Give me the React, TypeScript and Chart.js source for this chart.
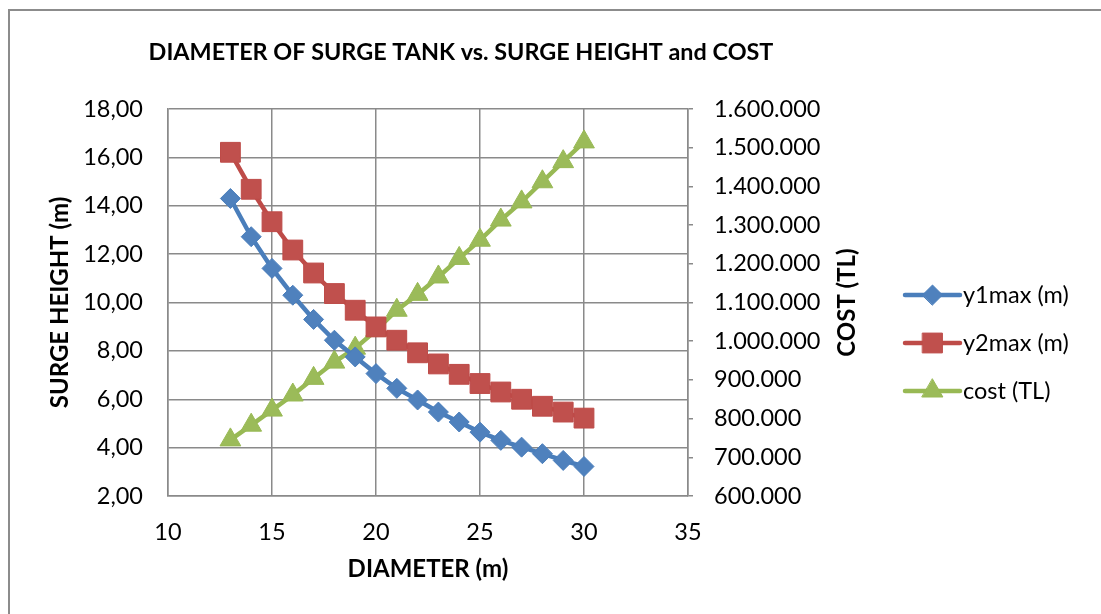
import React, { useEffect, useRef } from "react";
import { Chart, registerables } from "chart.js";

Chart.register(...registerables);

// Surge tank diameter (m)
const diameters = [13, 14, 15, 16, 17, 18, 19, 20, 21, 22, 23, 24, 25, 26, 27, 28, 29, 30];
// Maximum upsurge y1 (m)
const y1max = [14.3, 12.72, 11.41, 10.3, 9.3, 8.44, 7.75, 7.06, 6.45, 5.97, 5.47, 5.06, 4.64, 4.3, 4.02, 3.75, 3.47, 3.22];
// Maximum surge y2 (m)
const y2max = [16.21, 14.68, 13.34, 12.17, 11.22, 10.37, 9.68, 8.99, 8.44, 7.92, 7.46, 7.03, 6.65, 6.3, 6.0, 5.71, 5.47, 5.22];
// Construction cost (TL)
const cost = [745000, 783000, 822000, 861000, 904000, 946000, 982000, 1028000, 1080000, 1121000, 1166000, 1214000, 1261000, 1313000, 1360000, 1412000, 1464000, 1515000];

const seriesNames = ["y1max (m)", "y2max (m)", "cost (TL)"];
const chartTitle = "DIAMETER OF SURGE TANK vs. SURGE HEIGHT and COST";
const xTitle = "DIAMETER (m)";
const leftTitle = "SURGE HEIGHT (m)";
const rightTitle = "COST (TL)";

const FONT = "Lato, 'Open Sans', sans-serif";
const TICK_SIZE = 23.5;
const AXIS_TITLE_SIZE = 24;
const GRID = "#8a8a8a";

const BLUE = { line: "#4A7EBB", fill: "#4F81BD" };
const RED = { line: "#BE4B48", fill: "#C0504D" };
const GREEN = { line: "#98B954", fill: "#9BBB59" };

const formatHeight = (v: number) => v.toFixed(2).replace(".", ",");
const formatCost = (v: number) => String(Math.round(v)).replace(/\B(?=(\d{3})+(?!\d))/g, ".");

function drawMarker(ctx: CanvasRenderingContext2D, style: string, x: number, y: number, r: number, fill: string, stroke: string) {
  ctx.beginPath();
  if (style === "rectRot") {
    ctx.moveTo(x - r, y);
    ctx.lineTo(x, y - r);
    ctx.lineTo(x + r, y);
    ctx.lineTo(x, y + r);
  } else if (style === "rect") {
    const s = Math.SQRT1_2 * r;
    ctx.rect(x - s, y - s, 2 * s, 2 * s);
  } else {
    const a = (2 * Math.PI) / 3;
    ctx.moveTo(x, y - r);
    ctx.lineTo(x + Math.sin(a) * r, y - Math.cos(a) * r);
    ctx.lineTo(x + Math.sin(2 * a) * r, y - Math.cos(2 * a) * r);
  }
  ctx.closePath();
  ctx.fillStyle = fill;
  ctx.fill();
  ctx.strokeStyle = stroke;
  ctx.lineWidth = 1;
  ctx.stroke();
}

const textOverlay = {
  id: "textOverlay",
  afterDraw(chart: any) {
    const ctx: CanvasRenderingContext2D = chart.ctx;
    const area = chart.chartArea;
    ctx.save();
    ctx.fillStyle = "#000";
    ctx.textBaseline = "middle";

    // chart title
    ctx.font = `bold 23.4px ${FONT}`;
    ctx.textAlign = "center";
    ctx.fillText(chartTitle, 461, 52);

    // right axis title, reading bottom to top
    ctx.font = `bold ${AXIS_TITLE_SIZE}px ${FONT}`;
    ctx.save();
    ctx.translate(847, (area.top + area.bottom) / 2);
    ctx.rotate(-Math.PI / 2);
    ctx.fillText(rightTitle, 0, 0);
    ctx.restore();

    // legend: line with marker, then label
    ctx.font = `${TICK_SIZE}px ${FONT}`;
    ctx.textAlign = "left";
    chart.data.datasets.forEach((ds: any, i: number) => {
      const y = 295 + i * 48;
      ctx.beginPath();
      ctx.moveTo(905, y);
      ctx.lineTo(960, y);
      ctx.strokeStyle = ds.borderColor;
      ctx.lineWidth = ds.borderWidth;
      ctx.lineCap = "round";
      ctx.stroke();
      drawMarker(ctx, ds.pointStyle, 932.5, y, ds.pointRadius, ds.pointBackgroundColor, ds.pointBorderColor);
      ctx.fillStyle = "#000";
      ctx.fillText(ds.label, 963, y);
    });
    ctx.restore();
  },
};

export default function App() {
  const canvasRef = useRef<HTMLCanvasElement | null>(null);

  useEffect(() => {
    const canvas = canvasRef.current;
    if (!canvas) return;

    const line = (label: string, ys: number[], c: { line: string; fill: string }, style: string, radius: number, axis: string) => ({
      label,
      data: diameters.map((x, i) => ({ x, y: ys[i] })),
      yAxisID: axis,
      borderColor: c.line,
      borderWidth: 4.5,
      backgroundColor: c.fill,
      pointStyle: style,
      pointRadius: radius,
      pointHoverRadius: radius,
      pointBackgroundColor: c.fill,
      pointBorderColor: c.line,
      pointBorderWidth: 1,
      tension: 0,
      fill: false,
    });

    const chart = new Chart(canvas, {
      type: "line",
      data: {
        datasets: [
          line(seriesNames[0], y1max, BLUE, "rectRot", 10, "yHeight"),
          line(seriesNames[1], y2max, RED, "rect", 14, "yHeight"),
          line(seriesNames[2], cost, GREEN, "triangle", 12, "yCost"),
        ],
      },
      options: {
        responsive: false,
        animation: false,
        layout: { padding: { top: 109, left: 0, right: 0, bottom: 0 } },
        plugins: {
          legend: { display: false },
          title: { display: false },
          tooltip: { enabled: false },
        },
        scales: {
          x: {
            type: "linear",
            position: "bottom",
            min: 10,
            max: 35,
            ticks: { stepSize: 5, padding: 22, color: "#000", font: { family: FONT, size: TICK_SIZE } },
            grid: { color: GRID, lineWidth: 1.5, drawTicks: false },
            border: { color: GRID, width: 1.5 },
            title: { display: true, text: xTitle, color: "#000", font: { family: FONT, size: AXIS_TITLE_SIZE, weight: "bold" }, padding: { top: 0, bottom: 30 } },
            afterFit: (s: any) => { s.height = 118; },
          },
          yHeight: {
            type: "linear",
            position: "left",
            min: 2,
            max: 18,
            ticks: { stepSize: 2, padding: 25, color: "#000", font: { family: FONT, size: TICK_SIZE }, callback: (v: any) => formatHeight(Number(v)) },
            grid: { color: GRID, lineWidth: 1.5, drawTicks: false },
            border: { color: GRID, width: 1.5 },
            title: { display: true, text: leftTitle, color: "#000", font: { family: FONT, size: AXIS_TITLE_SIZE, weight: "bold" }, padding: { top: 45.6, bottom: 0 } },
            afterFit: (s: any) => { s.width = 168; },
          },
          yCost: {
            type: "linear",
            position: "right",
            min: 600000,
            max: 1600000,
            ticks: { stepSize: 100000, padding: 21, color: "#000", font: { family: FONT, size: TICK_SIZE }, callback: (v: any) => formatCost(Number(v)) },
            grid: { drawOnChartArea: false, color: GRID, lineWidth: 1.5, drawTicks: true, tickLength: 5 },
            border: { color: GRID, width: 1.5 },
            afterFit: (s: any) => { s.width = 413; },
          },
        },
      } as any,
      plugins: [textOverlay],
    });

    return () => chart.destroy();
  }, []);

  return (
    <div>
      <div
        style={{
          position: "fixed",
          left: 8,
          top: 9,
          width: 1200,
          height: 700,
          borderTop: "2px solid #8c8c8c",
          borderLeft: "2px solid #8c8c8c",
          boxSizing: "border-box",
        }}
      />
      <canvas
        ref={canvasRef}
        width={1101}
        height={614}
        style={{ position: "fixed", left: 0, top: 0, width: 1101, height: 614, display: "block" }}
      />
    </div>
  );
}
